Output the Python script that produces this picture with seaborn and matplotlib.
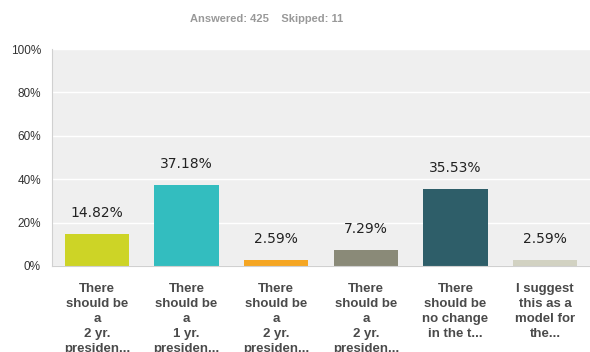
import matplotlib
matplotlib.use("Agg")
import matplotlib.pyplot as plt
import seaborn as sns
import pandas as pd

categories = [
    "There\nshould be\na\n2 yr.\npresiden...",
    "There\nshould be\na\n1 yr.\npresiden...",
    "There\nshould be\na\n2 yr.\npresiden...",
    "There\nshould be\na\n2 yr.\npresiden...",
    "There\nshould be\nno change\nin the t...",
    "I suggest\nthis as a\nmodel for\nthe...",
]
values = [14.82, 37.18, 2.59, 7.29, 35.53, 2.59]
colors = ["#cdd426", "#33bdbf", "#f5a623", "#8a8a78", "#2e5e69", "#d2d2c2"]
yticks = [0, 20, 40, 60, 80, 100]

sns.set_style("white")
plt.rcParams['font.family'] = ['Liberation Sans', 'DejaVu Sans']

fig = plt.figure(figsize=(5.9, 3.52), dpi=100)
ax = fig.add_axes([52/590, (352-266)/352, 538/590, 217/352])
ax.set_facecolor("#efefef")

df = pd.DataFrame({"cat": [f"c{i}" for i in range(len(values))], "val": values})
sns.barplot(data=df, x="cat", y="val", hue="cat", palette=colors, legend=False,
            width=0.72, ax=ax, saturation=1, linewidth=0, edgecolor="none")

ax.set_ylim(0, 100)
ax.set_xlim(-0.5, len(values) - 0.5)
ax.set_yticks(yticks)
ax.set_yticklabels([f"{t}%" for t in yticks], fontsize=8.5, color="#333333")
ax.yaxis.grid(True, color="white", linewidth=1)
ax.set_axisbelow(True)
ax.set_xticks(range(len(values)))
ax.set_xticklabels(categories, fontsize=9.5, fontweight="bold", color="#4a4a4a",
                   linespacing=1.35, va="top")
ax.tick_params(axis="x", length=0, pad=12)
ax.tick_params(axis="y", length=0, pad=8)
ax.set_xlabel("")
ax.set_ylabel("")
for s in ["top", "right"]:
    ax.spines[s].set_visible(False)
ax.spines["left"].set_color("#d0d0d0")
ax.spines["bottom"].set_color("#d0d0d0")

for i, v in enumerate(values):
    ax.annotate(f"{v:.2f}%", (i, v), xytext=(0, 10), textcoords="offset points",
                ha="center", va="bottom", fontsize=10, color="#222222",
                family="DejaVu Sans")

fig.text(267/590, 1 - 19/352, "Answered: 425    Skipped: 11", ha="center", va="center",
         fontsize=8, fontweight="bold", color="#999999")

fig.savefig("out.png", dpi=100)
